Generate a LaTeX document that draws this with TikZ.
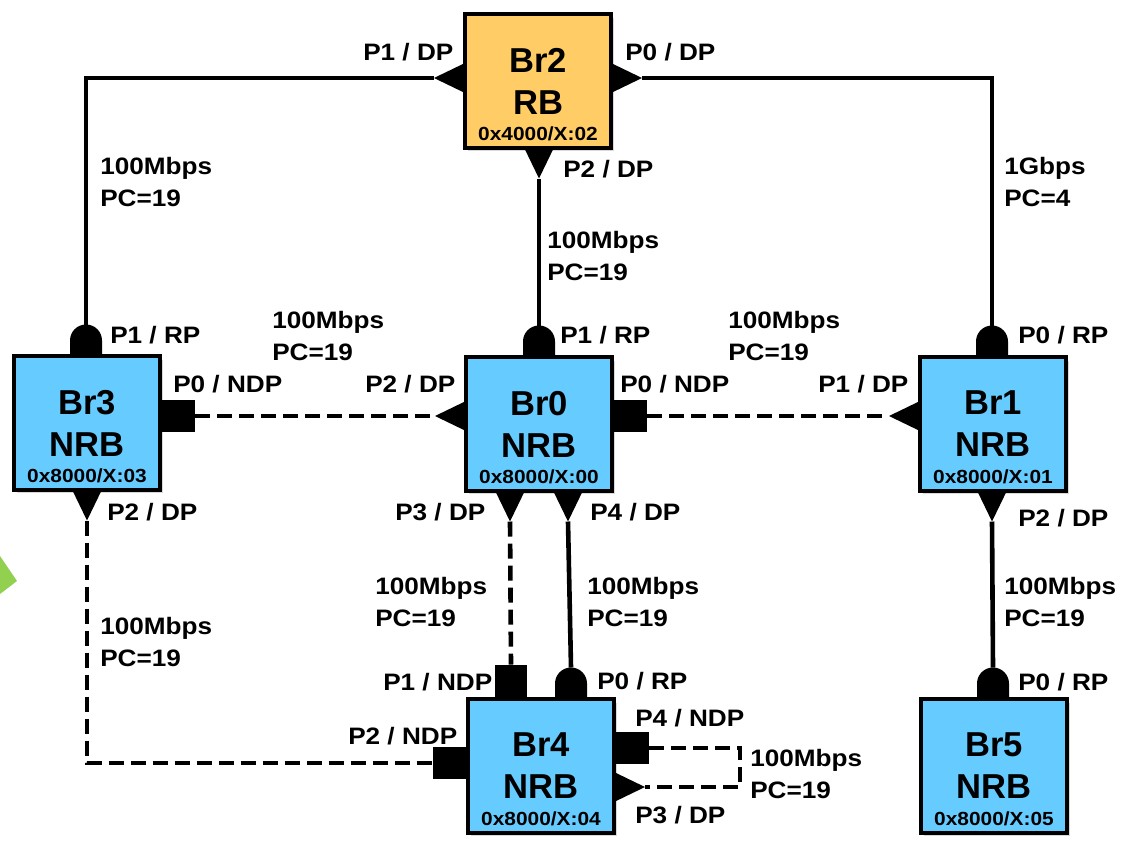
\documentclass[tikz,border=0pt]{standalone}
\usepackage{fontspec}
\setmainfont{Liberation Sans}
\newfontfamily\widefont{Liberation Sans}[FakeStretch=1.1]
\usetikzlibrary{shadows}
\definecolor{nrbblue}{HTML}{66CCFF}
\definecolor{rborange}{HTML}{FFCC66}
\definecolor{slidegreen}{HTML}{92D050}

% port markers, drawn pointing up from the box edge
\tikzset{
  dp/.pic={\fill (-15,0) -- (15,0) -- (0,31) -- cycle;
    \coordinate (-tip) at (0,31);},
  rp/.pic={\fill (-16,0) -- (-16,16) arc[start angle=180, end angle=0, radius=16] -- (16,0) -- cycle;
    \coordinate (-tip) at (0,32);},
  ndp/.pic={\fill (-16,0) rectangle (16,35);
    \coordinate (-tip) at (0,35);},
}

\begin{document}
\begin{tikzpicture}[
  x=0.025cm, y=0.025cm,
  bridge/.style={draw, line width=0.1cm, fill=nrbblue, minimum width=3.65cm,
    minimum height=3.325cm, outer sep=0pt, align=center,
    font=\bfseries\fontsize{24.6}{29.8}\selectfont,
    drop shadow={shadow xshift=0.08cm, shadow yshift=-0.08cm, opacity=0.3}},
  root/.style={bridge, fill=rborange},
  bid/.style={anchor=base, inner sep=0pt, font=\widefont\bfseries\fontsize{13.5}{16}\selectfont},
  port/.style={anchor=base west, inner sep=0pt, font=\widefont\bfseries\fontsize{16.9}{22.7}\selectfont},
  cost/.style={port, anchor=north west, align=left},
  link/.style={line width=0.115cm},
  blocked/.style={link, dash pattern=on 0.375cm off 0.175cm}
]
  \useasboundingbox (0,0) rectangle (1123,-843);
  \fill[slidegreen] (0,-556) -- (17,-581) -- (0,-594) -- cycle;

  % bridges
  \node[root]   (br2) at (538,-81)  {Br2\\RB};
  \node[bridge] (br0) at (539,-424) {Br0\\NRB};
  \node[bridge] (br3) at (87,-423)  {Br3\\NRB};
  \node[bridge] (br1) at (993,-424) {Br1\\NRB};
  \node[bridge] (br4) at (541,-766) {Br4\\NRB};
  \node[bridge] (br5) at (994,-766) {Br5\\NRB};
  \node[bid] (br2id) at (538,-140) {0x4000/X:02};
  \node[bid] (br0id) at (539,-483) {0x8000/X:00};
  \node[bid] (br3id) at (87,-482)  {0x8000/X:03};
  \node[bid] (br1id) at (993,-483) {0x8000/X:01};
  \node[bid] (br4id) at (541,-825) {0x8000/X:04};
  \node[bid] (br5id) at (994,-825) {0x8000/X:05};

  % ports
  \pic[rotate=90]  (br2p1) at (465,-78)    {dp};
  \pic[rotate=-90] (br2p0) at (611,-78)    {dp};
  \pic[rotate=180] (br2p2) at (539,-147.5) {dp};
  \pic             (br0p1) at (539,-357.5) {rp};
  \pic[rotate=90]  (br0p2) at (466,-416)   {dp};
  \pic[rotate=-90] (br0p0) at (612,-416)   {ndp};
  \pic[rotate=180] (br0p3) at (510,-490.5) {dp};
  \pic[rotate=180] (br0p4) at (568,-490.5) {dp};
  \pic             (br3p1) at (86,-356.5)  {rp};
  \pic[rotate=-90] (br3p0) at (160,-416)   {ndp};
  \pic[rotate=180] (br3p2) at (87,-489.5)  {dp};
  \pic             (br1p0) at (992,-357.5) {rp};
  \pic[rotate=90]  (br1p1) at (920,-416)   {dp};
  \pic[rotate=180] (br1p2) at (992,-490.5) {dp};
  \pic             (br4p1) at (511,-699.5) {ndp};
  \pic             (br4p0) at (571,-699.5) {rp};
  \pic[rotate=90]  (br4p2) at (468,-763)   {ndp};
  \pic[rotate=-90] (br4p4) at (614,-748)   {ndp};
  \pic[rotate=-90] (br4p3) at (614,-787)   {dp};
  \pic             (br5p0) at (993,-699.5) {rp};

  % links
  \draw[link] (br2p1-tip) -| (br3p1-tip);
  \draw[link] (br2p0-tip) -| (br1p0-tip);
  \draw[link] (br2p2-tip) -- (br0p1-tip);
  \draw[blocked] (br3p0-tip) -- (br0p2-tip);
  \draw[blocked] (br0p0-tip) -- (br1p1-tip);
  \draw[blocked] (br0p3-tip) -- (br4p1-tip);
  \draw[link] (br0p4-tip) -- (br4p0-tip);
  \draw[blocked] (br3p2-tip) |- (br4p2-tip);
  \draw[link] (br1p2-tip) -- (br5p0-tip);
  \draw[blocked] (br4p4-tip) -- ++(91,0) |- (br4p3-tip);

  % port roles
  \node[port] (lb2p1) at (363,-60)  {P1 / DP};
  \node[port] (lb2p0) at (625,-60)  {P0 / DP};
  \node[port] (lb2p2) at (563,-177) {P2 / DP};
  \node[port] (lb3p1) at (110,-343) {P1 / RP};
  \node[port] (lb0p1) at (560,-343) {P1 / RP};
  \node[port] (lb1p0) at (1018,-343) {P0 / RP};
  \node[port] (lb3p0) at (173,-392) {P0 / NDP};
  \node[port] (lb0p2) at (365,-392) {P2 / DP};
  \node[port] (lb0p0) at (620,-392) {P0 / NDP};
  \node[port] (lb1p1) at (818,-392) {P1 / DP};
  \node[port] (lb3p2) at (107,-520) {P2 / DP};
  \node[port] (lb0p3) at (395,-520) {P3 / DP};
  \node[port] (lb0p4) at (590,-520) {P4 / DP};
  \node[port] (lb1p2) at (1018,-526) {P2 / DP};
  \node[port] (lb4p1) at (383,-690) {P1 / NDP};
  \node[port] (lb4p0) at (597,-689) {P0 / RP};
  \node[port] (lb5p0) at (1018,-690) {P0 / RP};
  \node[port] (lb4p4) at (635,-726) {P4 / NDP};
  \node[port] (lb4p2) at (348,-744) {P2 / NDP};
  \node[port] (lb4p3) at (635,-823) {P3 / DP};

  % link speed and path cost
  \node[cost] (c23) at (100,-157)  {100Mbps\\PC=19};
  \node[cost] (c21) at (1004,-157) {1Gbps\\PC=4};
  \node[cost] (c20) at (547,-231)  {100Mbps\\PC=19};
  \node[cost] (c30) at (272,-311)  {100Mbps\\PC=19};
  \node[cost] (c01) at (728,-311)  {100Mbps\\PC=19};
  \node[cost] (c04a) at (375,-577) {100Mbps\\PC=19};
  \node[cost] (c04b) at (587,-577) {100Mbps\\PC=19};
  \node[cost] (c15) at (1004,-577) {100Mbps\\PC=19};
  \node[cost] (c34) at (100,-617)  {100Mbps\\PC=19};
  \node[cost] (c44) at (750,-749)  {100Mbps\\PC=19};
\end{tikzpicture}
\end{document}
